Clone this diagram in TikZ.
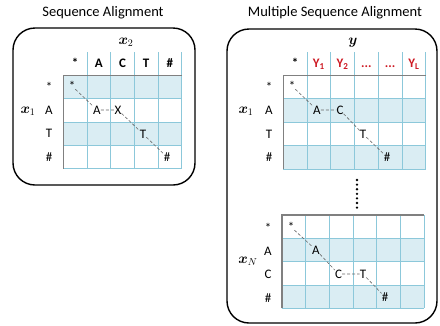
\documentclass[tikz,border=0pt]{standalone}
\usepackage{amsmath}
\usepackage{fontspec}
\setmainfont{Carlito}
\usepackage{tikz}
\definecolor{msaShade}{RGB}{218,237,243}
\definecolor{msaGrid}{RGB}{140,200,218}
\definecolor{msaBorder}{RGB}{128,128,128}
\definecolor{msaRed}{RGB}{205,25,35}

\begin{document}
\begin{tikzpicture}[x=1pt, y=-1pt,
    panel/.style={draw=black, line width=1.4pt, rounded corners=22pt},
    ttl/.style={font=\fontsize{14.5}{16}\selectfont},
    lbl/.style={font=\fontsize{13}{14}\selectfont, inner sep=0pt, text height=8.4pt, text depth=0pt},
    hd/.style={lbl, font=\fontsize{13}{14}\selectfont\bfseries},
    yh/.style={hd, text=msaRed},
    seq/.style={font=\fontsize{14.4}{16}\selectfont, inner sep=0pt},
    gl/.style={draw=msaGrid, line width=0.7pt},
    rim/.style={draw=msaBorder, line width=1.6pt},
    walk/.style={draw=black!60, densely dashed, line width=0.6pt}
  ]
  \useasboundingbox (0,0) rectangle (440,325);

  % frames and titles
  \draw[panel] (13,28) rectangle (195,185);
  \draw[panel] (227,29) rectangle (437,323);
  \node[ttl] (t1) at (103,13) {Sequence Alignment};
  \node[ttl] (t2) at (335,13) {Multiple Sequence Alignment};

  % left table
  \fill[msaShade] (63.3,75.3) rectangle (181.7,98.7);
  \fill[msaShade] (63.3,122) rectangle (181.7,145.3);
  \foreach \i in {1,...,5} \draw[gl] ({63.3+23.68*\i},52) -- ({63.3+23.68*\i},168.7);
  \foreach \j in {1,...,4} \draw[gl] (63.3,{75.3+23.35*\j}) -- (181.7,{75.3+23.35*\j});
  \draw[rim] (63.3,168.7) -- (63.3,75.3) -- (181.7,75.3);
  \foreach \t [count=\k from 0] in {*,A,C,T,\#} \node[hd] (lc\k) at ({75.1+23.68*\k},63) {\t};
  \foreach \t [count=\k from 0] in {*,A,T,\#} \node[lbl] (lr\k) at (49,{87+23.35*\k}) {\t};
  \node[seq] (x2) at (126,42) {$\boldsymbol{x}_2$};
  \node[seq] (lx1) at (28,111) {$\boldsymbol{x}_1$};
  \node[lbl] (a0) at (72,86) {*};
  \node[lbl] (a1) at (97,110) {A};
  \node[lbl] (a2) at (118,110) {X};
  \node[lbl] (a3) at (143,134) {T};
  \node[lbl] (a4) at (167,157) {\#};
  \draw[walk] (a0) -- (a1) -- (a2) -- (a3) -- (a4);

  % right table, first sequence
  \fill[msaShade] (283.3,98.8) rectangle (425.7,122.3);
  \fill[msaShade] (283.3,145.8) rectangle (425.7,169.3);
  \foreach \i in {1,...,6} \draw[gl] ({283.3+23.73*\i},52) -- ({283.3+23.73*\i},169.3);
  \foreach \j in {1,...,4} \draw[gl] (283.3,{75.3+23.5*\j}) -- (425.7,{75.3+23.5*\j});
  \draw[rim] (283.3,169.3) -- (283.3,75.3) -- (425.7,75.3);
  \node[hd] (rc0) at (295.2,63) {*};
  \node[yh] (rc1) at (318.9,63) {Y\textsubscript{1}};
  \node[yh] (rc2) at (342.6,63) {Y\textsubscript{2}};
  \node[yh] (rc3) at (366.4,63) {...};
  \node[yh] (rc4) at (390.1,63) {...};
  \node[yh] (rc5) at (413.8,63) {Y\textsubscript{L}};
  \foreach \t [count=\k from 0] in {*,A,T,\#} \node[lbl] (rr\k) at (269,{87+23.5*\k}) {\t};
  \node[seq] (yv) at (353,43) {$\boldsymbol{y}$};
  \node[seq] (rx1) at (246,111) {$\boldsymbol{x}_1$};
  \node[lbl] (b0) at (292,86) {*};
  \node[lbl] (b1) at (317,110) {A};
  \node[lbl] (b2) at (340,110) {C};
  \node[lbl] (b3) at (363,134) {T};
  \node[lbl] (b4) at (387,157) {\#};
  \draw[walk] (b0) -- (b1) -- (b2) -- (b3) -- (b4);

  \foreach \k in {0,...,6} \fill (357,{180+4.6*\k}) circle (1.3);

  % right table, last sequence
  \fill[msaShade] (281.7,238.3) rectangle (424,261.7);
  \fill[msaShade] (281.7,285) rectangle (424,308.3);
  \foreach \i in {1,...,6} \draw[gl] ({281.7+23.72*\i},215) -- ({281.7+23.72*\i},308.3);
  \foreach \j in {1,...,4} \draw[gl] (281.7,{215+23.33*\j}) -- (424,{215+23.33*\j});
  \draw[rim] (281.7,308.3) -- (281.7,215) -- (424,215);
  \foreach \t [count=\k from 0] in {*,A,C,\#} \node[lbl] (nr\k) at (268,{228+23.33*\k}) {\t};
  \node[seq] (xn) at (248,261) {$\boldsymbol{x}_N$};
  \node[lbl] (c0) at (291,227) {*};
  \node[lbl] (c1) at (316,250) {A};
  \node[lbl] (c2) at (338.5,274) {C};
  \node[lbl] (c3) at (363,274) {T};
  \node[lbl] (c4) at (385,297) {\#};
  \draw[walk] (c0) -- (c1) -- (c2) -- (c3) -- (c4);
\end{tikzpicture}
\end{document}
